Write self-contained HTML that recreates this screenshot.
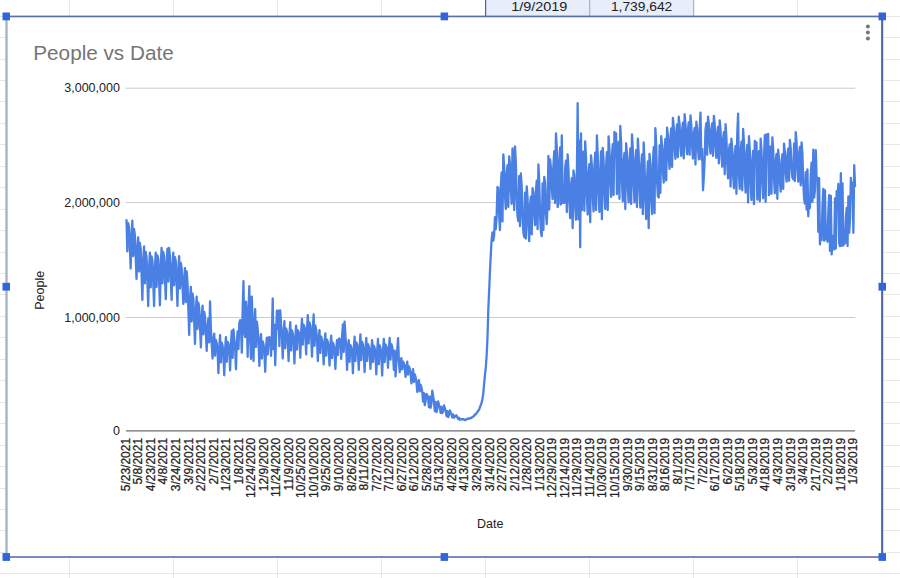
<!DOCTYPE html>
<html><head><meta charset="utf-8"><title>People vs Date</title>
<style>
html,body{margin:0;padding:0;background:#fff;}
body{width:900px;height:578px;overflow:hidden;position:relative;font-family:"Liberation Sans",sans-serif;}
svg{position:absolute;left:0;top:0;display:block;}
text{font-family:"Liberation Sans",sans-serif;}
</style></head><body>
<svg width="900" height="578" viewBox="0 0 900 578">
<rect x="0" y="0" width="900" height="578" fill="#ffffff"/>

<g stroke="#e8e8e8" stroke-width="1" shape-rendering="crispEdges">
<line x1="69.5" y1="0" x2="69.5" y2="578"/>
<line x1="173.5" y1="0" x2="173.5" y2="578"/>
<line x1="277.5" y1="0" x2="277.5" y2="578"/>
<line x1="381.5" y1="0" x2="381.5" y2="578"/>
<line x1="485.5" y1="0" x2="485.5" y2="578"/>
<line x1="589.6" y1="0" x2="589.6" y2="578"/>
<line x1="693.7" y1="0" x2="693.7" y2="578"/>
<line x1="797.8" y1="0" x2="797.8" y2="578"/>
<line x1="0" y1="16.10" x2="900" y2="16.10"/>
<line x1="0" y1="37.55" x2="900" y2="37.55"/>
<line x1="0" y1="59.00" x2="900" y2="59.00"/>
<line x1="0" y1="80.45" x2="900" y2="80.45"/>
<line x1="0" y1="101.90" x2="900" y2="101.90"/>
<line x1="0" y1="123.35" x2="900" y2="123.35"/>
<line x1="0" y1="144.80" x2="900" y2="144.80"/>
<line x1="0" y1="166.25" x2="900" y2="166.25"/>
<line x1="0" y1="187.70" x2="900" y2="187.70"/>
<line x1="0" y1="209.15" x2="900" y2="209.15"/>
<line x1="0" y1="230.60" x2="900" y2="230.60"/>
<line x1="0" y1="252.05" x2="900" y2="252.05"/>
<line x1="0" y1="273.50" x2="900" y2="273.50"/>
<line x1="0" y1="294.95" x2="900" y2="294.95"/>
<line x1="0" y1="316.40" x2="900" y2="316.40"/>
<line x1="0" y1="337.85" x2="900" y2="337.85"/>
<line x1="0" y1="359.30" x2="900" y2="359.30"/>
<line x1="0" y1="380.75" x2="900" y2="380.75"/>
<line x1="0" y1="402.20" x2="900" y2="402.20"/>
<line x1="0" y1="423.65" x2="900" y2="423.65"/>
<line x1="0" y1="445.10" x2="900" y2="445.10"/>
<line x1="0" y1="466.55" x2="900" y2="466.55"/>
<line x1="0" y1="488.00" x2="900" y2="488.00"/>
<line x1="0" y1="509.45" x2="900" y2="509.45"/>
<line x1="0" y1="530.90" x2="900" y2="530.90"/>
<line x1="0" y1="552.35" x2="900" y2="552.35"/>
<line x1="0" y1="573.80" x2="900" y2="573.80"/>
</g>
<rect x="485.5" y="0" width="208.2" height="16.5" fill="#e8edfa"/>
<rect x="485" y="0" width="1.2" height="16.5" fill="#4a62a4"/>
<rect x="589.2" y="0" width="1" height="16.5" fill="#9aa6c8"/>
<rect x="693.2" y="0" width="1" height="16.5" fill="#9aa6c8"/>
<text x="511.2" y="10.5" font-size="13.3" fill="#202124" textLength="56.2" lengthAdjust="spacingAndGlyphs">1/9/2019</text>
<text x="610.9" y="10.5" font-size="13.3" fill="#202124" textLength="61.4" lengthAdjust="spacingAndGlyphs">1,739,642</text>
<rect x="6.5" y="16.5" width="875.5" height="540.5" fill="#ffffff"/>
<rect x="5.3" y="17" width="2.4" height="540" fill="#a9b2ce"/>
<rect x="881.1" y="17" width="2.1" height="540" fill="#4a68ad"/>
<rect x="6" y="15.6" width="876" height="1.7" fill="#5c71a8"/>
<rect x="6" y="556" width="876" height="2" fill="#7f89bd"/>
<rect x="2.5" y="12.5" width="7.5" height="7.8" fill="#2f66d8"/>
<rect x="440.6" y="12.5" width="7.5" height="7.8" fill="#2f66d8"/>
<rect x="878.5" y="12.5" width="7.5" height="7.8" fill="#2f66d8"/>
<rect x="2.5" y="282.8" width="7.5" height="7.8" fill="#2f66d8"/>
<rect x="878.5" y="282.8" width="7.5" height="7.8" fill="#2f66d8"/>
<rect x="2.5" y="553.1" width="7.5" height="7.8" fill="#2f66d8"/>
<rect x="440.6" y="553.1" width="7.5" height="7.8" fill="#2f66d8"/>
<rect x="878.5" y="553.1" width="7.5" height="7.8" fill="#2f66d8"/>
<circle cx="867.9" cy="26.5" r="2.0" fill="#777777"/>
<circle cx="867.9" cy="32.6" r="2.0" fill="#777777"/>
<circle cx="867.9" cy="38.6" r="2.0" fill="#777777"/>
<text x="33.3" y="59.5" font-size="20.5" fill="#757575" textLength="140.4" lengthAdjust="spacingAndGlyphs">People vs Date</text>
<rect x="125.3" y="87.70" width="730.0" height="1" fill="#cccccc"/>
<rect x="125.3" y="202.15" width="730.0" height="1" fill="#cccccc"/>
<rect x="125.3" y="317.00" width="730.0" height="1" fill="#cccccc"/>
<rect x="125.9" y="430.40" width="729.0" height="1" fill="#4a4a4a"/>
<text x="119.9" y="92.35" font-size="12.5" fill="#222222" text-anchor="end">3,000,000</text>
<text x="119.9" y="206.80" font-size="12.5" fill="#222222" text-anchor="end">2,000,000</text>
<text x="119.9" y="321.65" font-size="12.5" fill="#222222" text-anchor="end">1,000,000</text>
<text x="119.9" y="435.05" font-size="12.5" fill="#222222" text-anchor="end">0</text>
<text transform="translate(44.1,309.8) rotate(-90)" font-size="12.5" fill="#222222">People</text>
<text x="477.1" y="527.9" font-size="12.5" fill="#222222">Date</text>
<g font-size="12" fill="#222222" stroke="#222222" stroke-width="0.25" text-anchor="end">
<text transform="translate(129.80,437.9) rotate(-90)">5/23/2021</text>
<text transform="translate(142.34,437.9) rotate(-90)">5/8/2021</text>
<text transform="translate(154.89,437.9) rotate(-90)">4/23/2021</text>
<text transform="translate(167.43,437.9) rotate(-90)">4/8/2021</text>
<text transform="translate(179.97,437.9) rotate(-90)">3/24/2021</text>
<text transform="translate(192.52,437.9) rotate(-90)">3/9/2021</text>
<text transform="translate(205.06,437.9) rotate(-90)">2/22/2021</text>
<text transform="translate(217.60,437.9) rotate(-90)">2/7/2021</text>
<text transform="translate(230.14,437.9) rotate(-90)">1/23/2021</text>
<text transform="translate(242.69,437.9) rotate(-90)">1/8/2021</text>
<text transform="translate(255.23,437.9) rotate(-90)">12/24/2020</text>
<text transform="translate(267.77,437.9) rotate(-90)">12/9/2020</text>
<text transform="translate(280.32,437.9) rotate(-90)">11/24/2020</text>
<text transform="translate(292.86,437.9) rotate(-90)">11/9/2020</text>
<text transform="translate(305.40,437.9) rotate(-90)">10/25/2020</text>
<text transform="translate(317.94,437.9) rotate(-90)">10/10/2020</text>
<text transform="translate(330.49,437.9) rotate(-90)">9/25/2020</text>
<text transform="translate(343.03,437.9) rotate(-90)">9/10/2020</text>
<text transform="translate(355.57,437.9) rotate(-90)">8/26/2020</text>
<text transform="translate(368.12,437.9) rotate(-90)">8/11/2020</text>
<text transform="translate(380.66,437.9) rotate(-90)">7/27/2020</text>
<text transform="translate(393.20,437.9) rotate(-90)">7/12/2020</text>
<text transform="translate(405.75,437.9) rotate(-90)">6/27/2020</text>
<text transform="translate(418.29,437.9) rotate(-90)">6/12/2020</text>
<text transform="translate(430.83,437.9) rotate(-90)">5/28/2020</text>
<text transform="translate(443.38,437.9) rotate(-90)">5/13/2020</text>
<text transform="translate(455.92,437.9) rotate(-90)">4/28/2020</text>
<text transform="translate(468.46,437.9) rotate(-90)">4/13/2020</text>
<text transform="translate(481.00,437.9) rotate(-90)">3/29/2020</text>
<text transform="translate(493.55,437.9) rotate(-90)">3/14/2020</text>
<text transform="translate(506.09,437.9) rotate(-90)">2/27/2020</text>
<text transform="translate(518.63,437.9) rotate(-90)">2/12/2020</text>
<text transform="translate(531.18,437.9) rotate(-90)">1/28/2020</text>
<text transform="translate(543.72,437.9) rotate(-90)">1/13/2020</text>
<text transform="translate(556.26,437.9) rotate(-90)">12/29/2019</text>
<text transform="translate(568.81,437.9) rotate(-90)">12/14/2019</text>
<text transform="translate(581.35,437.9) rotate(-90)">11/29/2019</text>
<text transform="translate(593.89,437.9) rotate(-90)">11/14/2019</text>
<text transform="translate(606.43,437.9) rotate(-90)">10/30/2019</text>
<text transform="translate(618.98,437.9) rotate(-90)">10/15/2019</text>
<text transform="translate(631.52,437.9) rotate(-90)">9/30/2019</text>
<text transform="translate(644.06,437.9) rotate(-90)">9/15/2019</text>
<text transform="translate(656.61,437.9) rotate(-90)">8/31/2019</text>
<text transform="translate(669.15,437.9) rotate(-90)">8/16/2019</text>
<text transform="translate(681.69,437.9) rotate(-90)">8/1/2019</text>
<text transform="translate(694.23,437.9) rotate(-90)">7/17/2019</text>
<text transform="translate(706.78,437.9) rotate(-90)">7/2/2019</text>
<text transform="translate(719.32,437.9) rotate(-90)">6/17/2019</text>
<text transform="translate(731.86,437.9) rotate(-90)">6/2/2019</text>
<text transform="translate(744.41,437.9) rotate(-90)">5/18/2019</text>
<text transform="translate(756.95,437.9) rotate(-90)">5/3/2019</text>
<text transform="translate(769.49,437.9) rotate(-90)">4/18/2019</text>
<text transform="translate(782.04,437.9) rotate(-90)">4/3/2019</text>
<text transform="translate(794.58,437.9) rotate(-90)">3/19/2019</text>
<text transform="translate(807.12,437.9) rotate(-90)">3/4/2019</text>
<text transform="translate(819.66,437.9) rotate(-90)">2/17/2019</text>
<text transform="translate(832.21,437.9) rotate(-90)">2/2/2019</text>
<text transform="translate(844.75,437.9) rotate(-90)">1/18/2019</text>
<text transform="translate(857.29,437.9) rotate(-90)">1/3/2019</text>
</g>
<path d="M126.50 219.25 L127.34 251.36 L128.17 223.07 L129.01 227.18 L129.84 246.75 L130.68 268.55 L131.51 235.58 L132.35 220.75 L133.18 256.05 L134.02 228.85 L134.85 234.87 L135.69 256.42 L136.53 278.95 L137.36 248.80 L138.20 237.45 L139.03 271.54 L139.87 242.94 L140.70 248.82 L141.54 273.08 L142.37 299.85 L143.21 261.63 L144.05 246.45 L144.88 283.42 L145.72 251.93 L146.55 257.31 L147.39 280.53 L148.22 306.05 L149.06 268.02 L149.89 252.65 L150.73 287.36 L151.56 256.39 L152.40 260.66 L153.24 282.02 L154.07 306.05 L154.91 268.63 L155.74 252.65 L156.58 286.95 L157.41 255.28 L158.25 259.09 L159.08 280.61 L159.92 305.35 L160.76 265.63 L161.59 247.85 L162.43 283.41 L163.26 252.00 L164.10 256.54 L164.93 277.14 L165.77 299.15 L166.60 264.30 L167.44 248.74 L168.28 281.49 L169.11 247.85 L169.95 256.68 L170.78 277.33 L171.62 299.85 L172.45 266.33 L173.29 252.65 L174.12 285.24 L174.96 257.07 L175.79 261.66 L176.63 282.56 L177.47 306.05 L178.30 270.68 L179.14 256.15 L179.97 288.59 L180.81 262.89 L181.64 267.85 L182.48 285.62 L183.31 303.95 L184.15 279.76 L184.99 268.04 L185.82 302.19 L186.66 271.45 L187.49 282.52 L188.33 307.91 L189.16 334.95 L190.00 299.74 L190.83 286.85 L191.67 321.51 L192.50 293.36 L193.34 298.85 L194.18 320.45 L195.01 343.95 L195.85 310.30 L196.68 296.55 L197.52 329.01 L198.35 302.66 L199.19 307.50 L200.02 326.72 L200.86 347.45 L201.69 317.39 L202.53 305.55 L203.37 334.40 L204.20 311.99 L205.04 316.88 L205.87 333.55 L206.71 350.95 L207.54 327.28 L208.38 318.59 L209.21 342.41 L210.05 301.45 L210.89 329.08 L211.72 343.45 L212.56 358.55 L213.39 339.23 L214.23 333.75 L215.06 355.70 L215.90 339.96 L216.73 342.98 L217.57 351.05 L218.41 373.15 L219.24 348.43 L220.08 335.15 L220.91 362.50 L221.75 342.71 L222.58 345.71 L223.42 353.73 L224.25 375.25 L225.09 350.05 L225.92 337.15 L226.76 361.80 L227.60 341.84 L228.43 343.58 L229.27 350.13 L230.10 370.35 L230.94 345.18 L231.77 330.92 L232.61 357.86 L233.44 329.45 L234.28 339.84 L235.12 347.89 L235.95 369.25 L236.79 343.14 L237.62 331.45 L238.46 349.04 L239.29 323.39 L240.13 320.19 L240.96 324.51 L241.80 352.65 L242.63 310.32 L243.47 281.15 L244.31 332.96 L245.14 337.05 L245.98 301.57 L246.81 316.66 L247.65 356.81 L248.48 310.76 L249.32 286.05 L250.15 337.87 L250.99 358.85 L251.82 296.75 L252.66 326.14 L253.50 361.06 L254.33 323.81 L255.17 309.15 L256.00 346.86 L256.84 321.70 L257.67 328.69 L258.51 340.99 L259.34 365.85 L260.18 342.63 L261.02 334.15 L261.85 358.51 L262.69 341.32 L263.52 344.31 L264.36 351.92 L265.19 371.75 L266.03 348.02 L266.86 337.55 L267.70 354.56 L268.53 337.54 L269.37 337.12 L270.21 340.66 L271.04 355.85 L271.88 335.94 L272.71 298.45 L273.55 349.34 L274.38 325.02 L275.22 365.15 L276.05 335.44 L276.89 310.65 L277.73 328.86 L278.56 310.54 L279.40 346.12 L280.23 310.45 L281.07 324.52 L281.90 334.85 L282.74 358.55 L283.57 333.16 L284.41 321.15 L285.25 348.24 L286.08 328.43 L286.92 331.35 L287.75 339.41 L288.59 361.15 L289.42 335.91 L290.26 322.15 L291.09 350.41 L291.93 330.29 L292.76 333.47 L293.60 341.71 L294.44 363.35 L295.27 337.98 L296.11 325.55 L296.94 349.59 L297.78 330.21 L298.61 331.79 L299.45 338.04 L300.28 357.75 L301.12 332.97 L301.96 318.95 L302.79 344.71 L303.63 324.73 L304.46 326.82 L305.30 333.84 L306.13 354.45 L306.97 329.46 L307.80 315.15 L308.64 343.48 L309.47 322.35 L310.31 325.23 L311.15 333.63 L311.98 356.65 L312.82 329.70 L313.65 314.45 L314.49 345.93 L315.32 325.37 L316.16 330.04 L316.99 339.46 L317.83 361.05 L318.66 338.83 L319.50 330.05 L320.34 352.91 L321.17 336.57 L322.01 339.34 L322.84 346.32 L323.68 364.45 L324.51 343.90 L325.35 333.35 L326.18 355.59 L327.02 339.55 L327.86 342.03 L328.69 348.50 L329.53 365.55 L330.36 346.17 L331.20 335.55 L332.03 358.09 L332.87 342.54 L333.70 345.34 L334.54 351.95 L335.38 368.85 L336.21 348.82 L337.05 340.05 L337.88 355.06 L338.72 338.88 L339.55 338.56 L340.39 342.31 L341.22 358.85 L342.06 337.34 L342.89 324.45 L343.73 352.06 L344.57 321.55 L345.40 335.39 L346.24 346.68 L347.07 369.95 L347.91 347.91 L348.74 340.05 L349.58 361.97 L350.41 345.05 L351.25 347.09 L352.09 353.79 L352.92 373.25 L353.76 349.56 L354.59 336.75 L355.43 361.08 L356.26 342.39 L357.10 344.50 L357.93 351.10 L358.77 369.95 L359.60 347.29 L360.44 334.45 L361.28 360.15 L362.11 341.83 L362.95 344.82 L363.78 352.40 L364.62 372.15 L365.45 349.41 L366.29 337.85 L367.12 360.86 L367.96 344.22 L368.80 346.52 L369.63 352.61 L370.47 368.85 L371.30 350.33 L372.14 340.05 L372.97 362.04 L373.81 345.59 L374.64 347.94 L375.48 354.88 L376.31 374.45 L377.15 351.52 L377.99 338.95 L378.82 364.14 L379.66 345.45 L380.49 348.02 L381.33 355.35 L382.16 375.55 L383.00 351.37 L383.83 338.95 L384.67 362.11 L385.50 344.44 L386.34 346.30 L387.18 351.95 L388.01 367.75 L388.85 348.54 L389.68 337.85 L390.52 359.58 L391.35 344.06 L392.19 346.53 L393.02 352.93 L393.86 369.94 L394.70 350.56 L395.53 376.35 L396.37 362.72 L397.20 350.46 L398.04 338.05 L398.87 359.88 L399.71 372.15 L400.54 360.81 L401.38 358.15 L402.22 369.36 L403.05 361.68 L403.89 363.37 L404.72 367.24 L405.56 376.85 L406.39 366.85 L407.23 361.65 L408.06 374.60 L408.90 366.31 L409.73 368.62 L410.57 373.20 L411.41 383.35 L412.24 373.61 L413.08 369.15 L413.91 381.98 L414.75 374.46 L415.58 377.06 L416.42 381.67 L417.25 391.85 L418.09 382.93 L418.93 380.15 L419.76 391.24 L420.60 384.78 L421.43 387.29 L422.27 391.79 L423.10 401.65 L423.94 393.16 L424.77 405.15 L425.61 400.99 L426.44 393.92 L427.28 394.97 L428.12 398.11 L428.95 407.08 L429.79 396.74 L430.62 407.85 L431.46 403.23 L432.29 390.65 L433.13 396.34 L433.96 401.09 L434.80 411.09 L435.63 401.89 L436.47 412.15 L437.31 408.56 L438.14 401.45 L438.98 404.63 L439.81 407.13 L440.65 412.89 L441.48 406.93 L442.32 413.15 L443.15 411.08 L443.99 405.45 L444.83 408.20 L445.66 410.62 L446.50 416.01 L447.33 411.04 L448.17 417.15 L449.00 414.88 L449.84 410.45 L450.67 412.46 L451.51 414.16 L452.35 417.43 L453.18 414.53 L454.02 417.55 L454.85 416.75 L455.69 415.58 L456.52 415.45 L457.36 417.27 L458.19 419.01 L459.03 417.82 L459.86 419.75 L460.70 419.22 L461.54 419.20 L462.37 419.50 L463.21 419.11 L464.04 419.48 L464.88 420.05 L465.71 420.16 L466.55 419.04 L467.38 418.91 L468.22 418.48 L469.06 418.72 L469.89 417.99 L470.73 418.27 L471.56 417.87 L472.40 416.76 L473.23 416.57 L474.07 415.79 L474.90 414.45 L475.74 414.42 L476.57 412.98 L477.41 412.05 L478.25 410.78 L479.08 409.78 L479.92 407.25 L480.75 405.09 L481.59 402.87 L482.42 398.74 L483.26 393.61 L484.09 383.80 L484.93 375.28 L485.76 367.53 L486.60 356.22 L487.44 338.85 L488.27 310.76 L489.11 291.47 L489.94 271.72 L490.78 254.44 L491.61 239.93 L492.45 232.46 L493.28 240.70 L494.12 235.56 L494.96 217.18 L495.79 229.20 L496.63 217.05 L497.46 186.97 L498.30 187.99 L499.13 214.23 L499.97 230.15 L500.80 186.78 L501.64 172.49 L502.48 221.45 L503.31 154.35 L504.15 166.89 L504.98 195.35 L505.82 209.05 L506.65 174.12 L507.49 165.25 L508.32 207.04 L509.16 156.35 L509.99 163.76 L510.83 188.81 L511.67 203.85 L512.50 148.35 L513.34 158.35 L514.17 210.01 L515.01 146.35 L515.84 162.86 L516.68 198.14 L517.51 216.41 L518.35 221.15 L519.18 176.25 L520.02 226.19 L520.86 173.45 L521.69 186.42 L522.53 216.09 L523.36 232.16 L524.20 237.15 L525.03 192.56 L525.87 238.49 L526.70 186.45 L527.54 197.31 L528.38 224.43 L529.21 241.15 L530.05 205.47 L530.88 196.54 L531.72 234.44 L532.55 188.15 L533.39 192.76 L534.22 213.47 L535.06 225.15 L535.89 192.03 L536.73 180.61 L537.57 229.22 L538.40 164.45 L539.24 181.40 L540.07 215.12 L540.91 231.99 L541.74 236.15 L542.58 183.45 L543.41 229.86 L544.25 176.80 L545.09 183.19 L545.92 212.85 L546.76 224.15 L547.59 202.85 L548.43 155.95 L549.26 209.58 L550.10 159.35 L550.93 167.84 L551.77 187.51 L552.61 199.05 L553.44 164.77 L554.28 151.14 L555.11 203.07 L555.95 133.35 L556.78 148.14 L557.62 207.05 L558.45 202.98 L559.29 159.55 L560.12 147.52 L560.96 204.53 L561.80 135.35 L562.63 202.85 L563.47 185.18 L564.30 202.87 L565.14 168.34 L565.97 160.66 L566.81 212.15 L567.64 154.35 L568.48 169.59 L569.32 201.28 L570.15 218.20 L570.99 185.67 L571.82 178.25 L572.66 228.15 L573.49 170.45 L574.33 175.67 L575.16 204.90 L576.00 219.73 L576.83 176.42 L577.67 103.25 L578.51 219.26 L579.34 140.77 L580.18 247.25 L581.01 133.35 L581.85 210.19 L582.68 163.37 L583.52 151.56 L584.35 210.85 L585.19 141.35 L586.03 157.95 L586.86 195.20 L587.70 214.53 L588.53 174.12 L589.37 164.10 L590.20 222.15 L591.04 155.35 L591.87 165.31 L592.71 196.24 L593.54 211.40 L594.38 167.46 L595.22 152.67 L596.05 210.05 L596.89 135.35 L597.72 154.51 L598.56 192.70 L599.39 211.89 L600.23 172.47 L601.06 151.35 L601.90 219.15 L602.74 147.88 L603.57 160.11 L604.41 193.23 L605.24 209.01 L606.08 165.58 L606.91 152.06 L607.75 210.05 L608.58 136.35 L609.42 149.19 L610.25 181.85 L611.09 196.91 L611.93 156.12 L612.76 144.13 L613.60 195.05 L614.43 131.95 L615.27 145.45 L616.10 133.35 L616.94 193.99 L617.77 154.34 L618.61 141.80 L619.44 198.85 L620.28 125.85 L621.12 142.91 L621.95 181.73 L622.79 201.32 L623.62 161.75 L624.46 152.96 L625.29 209.05 L626.13 143.35 L626.96 154.05 L627.80 186.45 L628.64 202.41 L629.47 160.93 L630.31 148.30 L631.14 204.05 L631.98 134.35 L632.81 149.27 L633.65 184.60 L634.48 202.37 L635.32 161.32 L636.15 150.15 L636.99 207.05 L637.83 138.75 L638.66 153.38 L639.50 189.05 L640.33 207.64 L641.17 165.99 L642.00 154.51 L642.84 214.15 L643.67 142.35 L644.51 161.77 L645.35 199.66 L646.18 219.09 L647.02 180.96 L647.85 161.45 L648.69 228.15 L649.52 153.79 L650.36 164.24 L651.19 197.87 L652.03 214.03 L652.87 164.41 L653.70 147.18 L654.54 213.15 L655.37 128.25 L656.21 145.17 L657.04 180.78 L657.88 195.90 L658.71 197.55 L659.55 145.40 L660.38 192.96 L661.22 136.25 L662.06 145.42 L662.89 170.99 L663.73 182.58 L664.56 149.11 L665.40 138.78 L666.23 180.45 L667.07 127.75 L667.90 135.41 L668.74 158.56 L669.58 168.91 L670.41 138.08 L671.25 128.41 L672.08 166.95 L672.92 117.95 L673.75 126.85 L674.59 148.81 L675.42 158.80 L676.26 132.10 L677.09 124.51 L677.93 157.15 L678.77 116.75 L679.60 124.57 L680.44 145.18 L681.27 155.79 L682.11 130.20 L682.94 122.62 L683.78 158.45 L684.61 114.25 L685.45 123.08 L686.28 144.18 L687.12 154.24 L687.96 129.29 L688.79 122.40 L689.63 154.75 L690.46 115.45 L691.30 124.78 L692.13 146.64 L692.97 158.56 L693.80 134.19 L694.64 127.84 L695.48 164.55 L696.31 121.65 L697.15 128.43 L697.98 148.97 L698.82 159.30 L699.65 130.66 L700.49 112.55 L701.32 159.55 L702.16 148.85 L703.00 190.25 L703.83 176.85 L704.67 158.85 L705.50 129.70 L706.34 123.04 L707.17 154.75 L708.01 116.75 L708.84 124.31 L709.68 143.63 L710.51 153.48 L711.35 130.06 L712.19 123.33 L713.02 155.95 L713.86 115.95 L714.69 124.68 L715.53 146.42 L716.36 157.91 L717.20 133.32 L718.03 126.81 L718.87 163.35 L719.71 120.35 L720.54 129.99 L721.38 153.69 L722.21 166.62 L723.05 139.43 L723.88 132.05 L724.72 174.35 L725.55 124.05 L726.39 137.33 L727.22 164.07 L728.06 178.34 L728.90 150.68 L729.73 144.30 L730.57 186.55 L731.40 138.75 L732.24 148.06 L733.07 174.10 L733.91 188.30 L734.74 155.64 L735.58 145.78 L736.41 193.85 L737.25 134.08 L738.09 113.55 L738.92 174.45 L739.76 188.88 L740.59 152.50 L741.43 141.72 L742.26 190.25 L743.10 128.95 L743.93 141.70 L744.77 174.89 L745.61 192.61 L746.44 154.85 L747.28 144.81 L748.11 202.45 L748.95 136.25 L749.78 149.24 L750.62 183.11 L751.45 199.94 L752.29 161.20 L753.12 150.88 L753.96 204.15 L754.80 140.95 L755.63 154.14 L756.47 142.35 L757.30 199.70 L758.14 162.28 L758.97 151.15 L759.81 201.25 L760.64 138.58 L761.48 150.57 L762.32 182.18 L763.15 198.31 L763.99 158.81 L764.82 135.05 L765.66 201.95 L766.49 134.50 L767.33 147.53 L768.16 133.85 L769.00 195.13 L769.84 156.63 L770.67 146.33 L771.51 193.85 L772.34 137.45 L773.18 148.77 L774.01 178.39 L774.85 193.25 L775.68 161.44 L776.52 153.85 L777.35 198.75 L778.19 149.75 L779.03 159.24 L779.86 181.58 L780.70 191.63 L781.53 162.92 L782.37 154.24 L783.20 188.89 L784.04 143.65 L784.87 152.05 L785.71 171.64 L786.55 181.65 L787.38 155.89 L788.22 148.74 L789.05 180.76 L789.89 139.95 L790.72 148.12 L791.56 167.60 L792.39 177.38 L793.23 179.25 L794.06 143.72 L794.90 181.10 L795.74 132.15 L796.57 142.28 L797.41 168.48 L798.24 181.73 L799.08 153.57 L799.91 146.92 L800.75 185.35 L801.58 142.35 L802.42 153.96 L803.25 183.03 L804.09 198.04 L804.93 203.65 L805.76 172.19 L806.60 209.54 L807.43 169.35 L808.27 216.25 L809.10 197.80 L809.94 207.98 L810.77 174.12 L811.61 162.69 L812.45 201.89 L813.28 149.75 L814.12 197.55 L814.95 189.84 L815.79 150.25 L816.62 179.46 L817.46 177.51 L818.29 231.75 L819.13 178.15 L819.97 244.45 L820.80 225.57 L821.64 240.09 L822.47 206.22 L823.31 188.85 L824.14 240.75 L824.98 190.48 L825.81 239.45 L826.65 227.18 L827.48 241.76 L828.32 212.32 L829.16 195.15 L829.99 250.81 L830.83 195.95 L831.66 254.45 L832.50 235.92 L833.33 248.54 L834.17 249.45 L835.00 198.45 L835.84 248.58 L836.68 191.09 L837.51 199.45 L838.35 183.95 L839.18 243.23 L840.02 246.05 L840.85 173.15 L841.69 245.79 L842.52 183.29 L843.36 245.55 L844.19 229.92 L845.03 243.45 L845.87 218.00 L846.70 207.85 L847.54 246.05 L848.37 196.45 L849.21 232.75 L850.04 218.44 L850.88 177.85 L851.71 195.47 L852.55 182.98 L853.38 232.75 L854.22 165.05 L855.06 187.00" fill="none" stroke="#4a80e4" stroke-width="2.3" stroke-linejoin="round" stroke-linecap="butt"/>
</svg>
</body></html>
